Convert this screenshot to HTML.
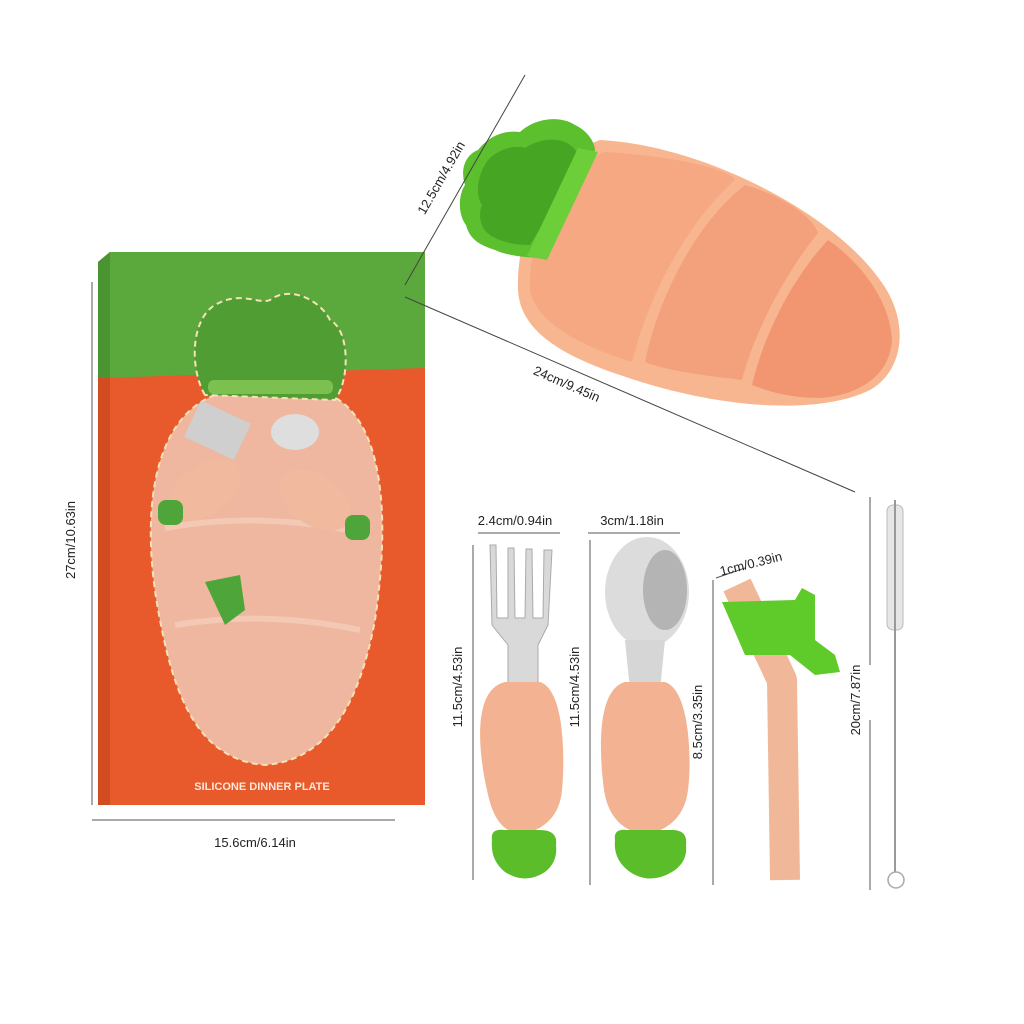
<!DOCTYPE html>
<html><head><meta charset="utf-8"><style>
html,body{margin:0;padding:0;background:#fff;}
svg{display:block;}
text{font-family:"Liberation Sans",sans-serif;fill:#222;font-size:13px;}
</style></head><body>
<svg width="1024" height="1024" viewBox="0 0 1024 1024" xmlns="http://www.w3.org/2000/svg">
<rect width="1024" height="1024" fill="#fff"/>
<!-- Box -->
<polygon points="98,262 110,252 425,252 425,805 98,805" fill="#e85a2c"/>
<polygon points="98,262 110,252 425,252 425,368 98,378" fill="#5ba83c"/>
<polygon points="98,262 110,252 110,377 98,378" fill="#4a9431"/>
<polygon points="98,378 110,377 110,805 98,805" fill="#d24c22"/>
<!-- carrot window -->
<path d="M215,395 C150,420 140,520 160,620 C175,700 200,760 265,765 C330,760 360,700 375,620 C390,520 385,420 330,395 Z" fill="#efb79f" stroke="#f6e2b8" stroke-width="2" stroke-dasharray="6,4"/>
<path d="M205,395 C190,370 190,320 215,305 C240,290 260,305 270,300 C290,285 320,300 330,320 C350,330 350,380 335,400 Z" fill="#4f9d33" stroke="#f6e2b8" stroke-width="2" stroke-dasharray="6,4"/>
<rect x="208" y="380" width="125" height="14" rx="6" fill="#7cc04f"/>
<path d="M165,528 Q265,510 370,535" stroke="#f3c8b4" stroke-width="6" fill="none"/>
<path d="M175,625 Q265,610 360,630" stroke="#f3c8b4" stroke-width="6" fill="none"/>
<ellipse cx="295" cy="432" rx="24" ry="18" fill="#dedede"/>
<rect x="190" y="410" width="55" height="40" fill="#cfcfcf" transform="rotate(25 217 430)"/>
<ellipse cx="205" cy="490" rx="40" ry="25" fill="#f1b99d" transform="rotate(-35 205 490)"/>
<ellipse cx="315" cy="500" rx="40" ry="25" fill="#f1b99d" transform="rotate(35 315 500)"/>
<rect x="158" y="500" width="25" height="25" rx="8" fill="#4ea53a"/>
<rect x="345" y="515" width="25" height="25" rx="8" fill="#4ea53a"/>
<path d="M205,582 L240,575 L245,610 L225,625 Z" fill="#4ea53a"/>
<text x="262" y="790" text-anchor="middle" style="font-size:11px;font-weight:bold;fill:#fbe8d8">SILICONE DINNER PLATE</text>
<!-- dims for box -->
<line x1="92" y1="282" x2="92" y2="805" stroke="#555" stroke-width="1"/>
<text x="75" y="540" text-anchor="middle" transform="rotate(-90 75 540)">27cm/10.63in</text>
<line x1="92" y1="820" x2="395" y2="820" stroke="#555" stroke-width="1"/>
<text x="255" y="847" text-anchor="middle">15.6cm/6.14in</text>
<!-- plate -->
<path d="M600,140 C700,145 830,210 880,280 C910,320 905,370 870,390 C820,415 720,410 620,375 C560,355 520,330 518,290 C516,240 540,160 600,140 Z" fill="#f8b690"/>
<path d="M605,152 C700,158 735,175 735,180 C690,220 650,290 632,362 C600,352 540,330 530,292 C528,245 550,172 605,152 Z" fill="#f5a882"/>
<path d="M745,185 C780,195 812,215 818,233 C780,280 752,340 742,380 C700,375 665,370 645,362 C660,290 700,220 745,185 Z" fill="#f3a07c"/>
<path d="M828,240 C860,262 890,300 892,340 C890,375 860,395 820,398 C790,398 770,392 752,385 C765,330 795,275 828,240 Z" fill="#f29672"/>
<!-- green top -->
<path d="M478,150 C490,135 505,130 520,132 C535,118 560,115 575,125 C590,132 595,145 595,150 L545,258 C525,258 505,255 495,250 C480,245 470,240 466,225 C458,215 458,195 465,185 C460,170 465,155 478,150 Z" fill="#5cbf2e"/>
<path d="M488,160 C500,148 515,145 525,148 C540,138 560,137 570,145 C580,152 580,162 575,170 L530,245 C515,245 500,242 490,235 C480,228 478,215 482,205 C475,195 477,175 488,160 Z" fill="#46a522"/>
<path d="M578,148 L598,152 L547,260 L527,256 Z" fill="#6ccf3a"/>
<!-- plate dims -->
<line x1="405" y1="285" x2="525" y2="75" stroke="#444" stroke-width="1"/>
<text x="445" y="180" text-anchor="middle" transform="rotate(-60 445 180)">12.5cm/4.92in</text>
<line x1="405" y1="297" x2="855" y2="492" stroke="#444" stroke-width="1"/>
<text x="565" y="388" text-anchor="middle" transform="rotate(23.5 565 388)">24cm/9.45in</text>
<!-- fork -->
<line x1="473" y1="545" x2="473" y2="880" stroke="#555"/>
<text x="462" y="687" text-anchor="middle" transform="rotate(-90 462 687)">11.5cm/4.53in</text>
<line x1="478" y1="533" x2="560" y2="533" stroke="#555"/>
<text x="515" y="525" text-anchor="middle">2.4cm/0.94in</text>
<path d="M490,545 L496,545 L497,618 L508,618 L508,548 L514,548 L515,618 L525,618 L526,549 L532,549 L533,618 L543,618 L544,550 L552,550 L548,625 L538,645 L538,685 L508,685 L508,645 L492,625 Z" fill="#d9d9d9" stroke="#aaa" stroke-width="1"/>
<path d="M505,682 C470,690 480,760 487,790 C492,815 500,830 520,835 C545,830 560,815 562,790 C565,760 565,690 540,682 Z" fill="#f3b292"/>
<path d="M492,840 Q490,828 505,830 L540,830 Q558,830 556,845 Q558,862 545,872 Q525,885 505,872 Q490,860 492,840 Z" fill="#5cbd2a"/>
<!-- spoon -->
<line x1="590" y1="540" x2="590" y2="885" stroke="#555"/>
<text x="579" y="687" text-anchor="middle" transform="rotate(-90 579 687)">11.5cm/4.53in</text>
<line x1="588" y1="533" x2="680" y2="533" stroke="#555"/>
<text x="632" y="525" text-anchor="middle">3cm/1.18in</text>
<ellipse cx="647" cy="592" rx="42" ry="55" fill="#dcdcdc"/>
<ellipse cx="665" cy="590" rx="22" ry="40" fill="#9a9a9a" opacity="0.6"/>
<path d="M625,640 L630,690 L660,690 L665,640 Z" fill="#d6d6d6"/>
<path d="M625,682 C595,690 600,760 604,790 C608,815 620,830 645,835 C670,830 685,815 688,790 C692,760 690,690 665,682 Z" fill="#f3b292"/>
<path d="M615,840 Q613,828 628,830 L672,830 Q688,830 686,845 Q688,862 672,872 Q650,885 630,872 Q613,860 615,840 Z" fill="#5cbd2a"/>
<line x1="713" y1="580" x2="713" y2="885" stroke="#555"/>
<text x="702" y="722" text-anchor="middle" transform="rotate(-90 702 722)">8.5cm/3.35in</text>
<!-- straw -->
<line x1="716" y1="578" x2="745" y2="568" stroke="#555"/>
<text x="752" y="568" text-anchor="middle" transform="rotate(-14 752 568)">1cm/0.39in</text>
<path d="M737,585 L782,680 L785,880" stroke="#f0b898" stroke-width="30" fill="none" stroke-linejoin="round"/>
<path d="M722,602 L795,600 L802,588 L815,595 L815,640 L835,655 L840,672 L815,675 L790,655 L745,655 Z" fill="#5ecb2a"/>
<!-- brush -->
<line x1="870" y1="497" x2="870" y2="665" stroke="#555"/>
<line x1="870" y1="720" x2="870" y2="890" stroke="#555"/>
<text x="860" y="700" text-anchor="middle" transform="rotate(-90 860 700)">20cm/7.87in</text>
<rect x="887" y="505" width="16" height="125" rx="6" fill="#e6e6e6" stroke="#bbb"/>
<line x1="895" y1="500" x2="895" y2="872" stroke="#999" stroke-width="2"/>
<circle cx="896" cy="880" r="8" fill="none" stroke="#aaa" stroke-width="1.5"/>
</svg>
</body></html>
